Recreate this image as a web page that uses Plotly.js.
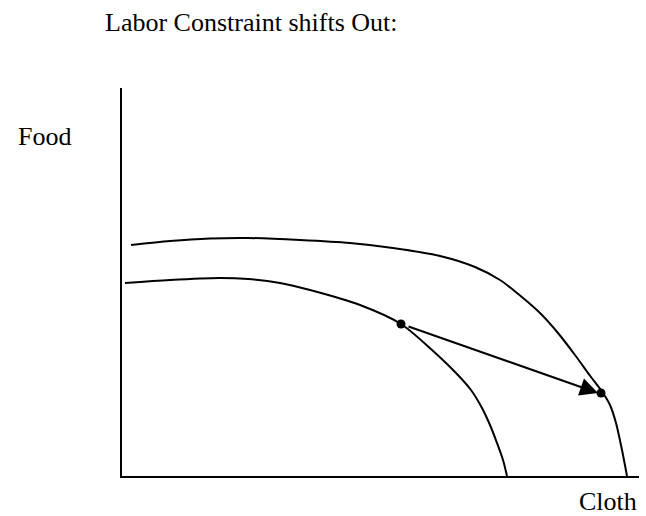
<!DOCTYPE html>
<html>
<head>
<meta charset="utf-8">
<script src="https://cdn.plot.ly/plotly-3.0.1.min.js"></script>
<style>html,body{margin:0;padding:0;background:#fff;}#chart{width:646px;height:516px;}</style>
</head>
<body>
<div id="chart"></div>
<script>
// Production possibility frontiers (Cloth on x, Food on y)
const outerCloth = [9, 48, 88, 126, 178, 228, 271, 318, 353, 378, 395, 418, 436, 453, 469, 481, 488, 494, 500, 505];
const outerFood  = [231, 235, 237.5, 238, 236, 233, 228, 220, 209, 196, 183, 163, 143, 121, 99, 83, 71, 53, 26, 0];
const innerCloth = [3, 48, 97, 126, 158, 188, 238, 279, 310, 334, 349, 360, 368, 375, 381, 385];
const innerFood  = [193, 196, 198, 197, 193, 186, 171, 152, 126, 103, 86, 68, 51, 33, 16, 0];
// Production points: before and after the shift
const pointCloth = [279, 479];
const pointFood  = [152, 83];
const titleText = "Labor Constraint shifts Out:";
const xLabel = "Cloth";
const yLabel = "Food";

const font = {family: "Liberation Serif, Times New Roman, serif", size: 26, color: "#000"};
const lineStyle = {color: "#000", width: 2, shape: "spline", smoothing: 0.8};

const traces = [
  {x: outerCloth, y: outerFood, mode: "lines", line: lineStyle, hoverinfo: "skip"},
  {x: innerCloth, y: innerFood, mode: "lines", line: lineStyle, hoverinfo: "skip"},
  {x: pointCloth, y: pointFood, mode: "markers", marker: {color: "#000", size: 9}, hoverinfo: "skip"}
];

const layout = {
  width: 646, height: 516,
  margin: {l: 122, r: 7, t: 88, b: 40},
  paper_bgcolor: "#fff", plot_bgcolor: "#fff",
  showlegend: false,
  title: {text: titleText, font: font, x: 105/646, xanchor: "left", xref: "container", y: 1 - 22/516, yanchor: "middle", yref: "container"},
  xaxis: {range: [0, 517], showline: true, linecolor: "#000", linewidth: 2, showgrid: false, zeroline: false, showticklabels: false, ticks: "", fixedrange: true},
  yaxis: {range: [0, 388], showline: true, linecolor: "#000", linewidth: 2, showgrid: false, zeroline: false, showticklabels: false, ticks: "", fixedrange: true},
  annotations: [
    {x: pointCloth[1] - 3, y: pointFood[1], ax: pointCloth[0] + 6, ay: pointFood[0] - 2, xref: "x", yref: "y", axref: "x", ayref: "y",
     showarrow: true, arrowhead: 2, arrowsize: 1.8, arrowwidth: 2, arrowcolor: "#000", text: ""},
    {text: yLabel, font: font, showarrow: false, xref: "paper", yref: "paper", x: (16 - 122) / 517, xanchor: "left", y: (476 - 136) / 388, yanchor: "middle"},
    {text: xLabel, font: font, showarrow: false, xref: "paper", yref: "paper", x: (577 - 122) / 517, xanchor: "left", y: (476 - 501) / 388, yanchor: "middle"}
  ]
};

Plotly.newPlot("chart", traces, layout, {displayModeBar: false, staticPlot: true});
</script>
</body>
</html>
